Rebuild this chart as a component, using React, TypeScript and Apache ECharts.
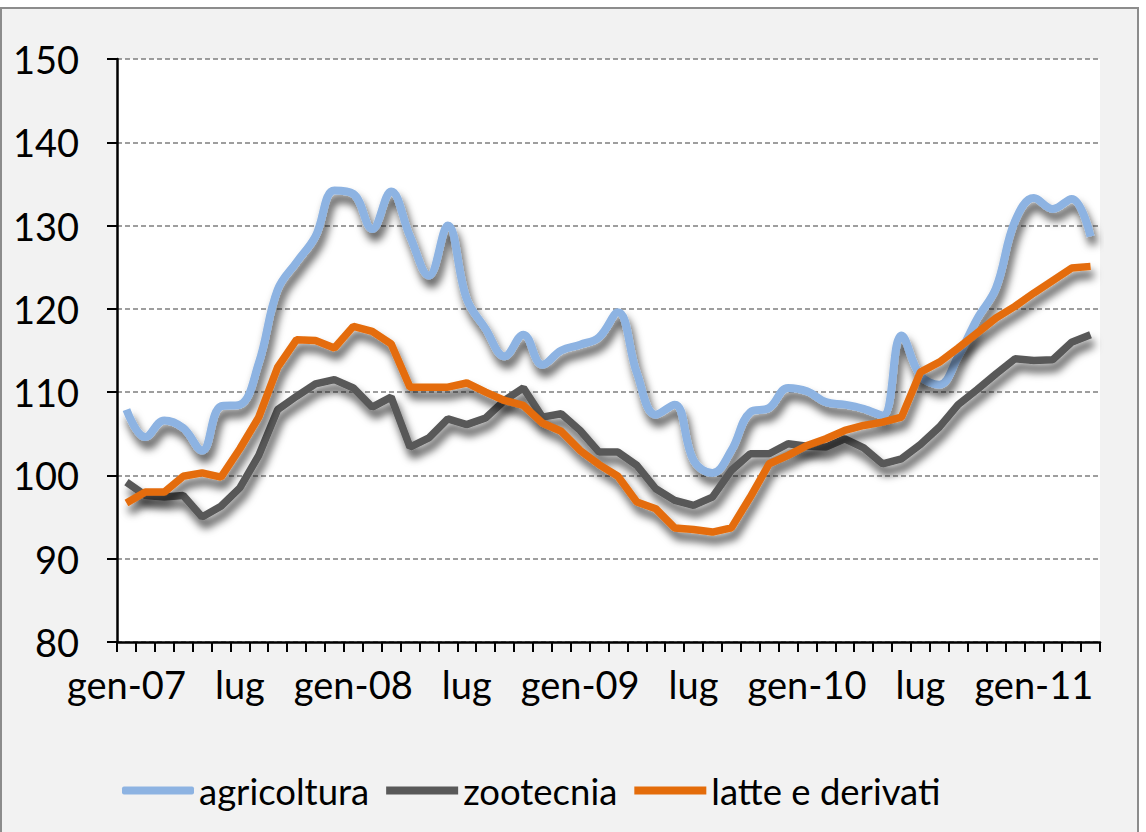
import React, { useEffect, useRef } from 'react';
import * as echarts from 'echarts';

const categories = [
  'gen-07', 'feb-07', 'mar-07', 'apr-07', 'mag-07', 'giu-07', 'lug-07', 'ago-07', 'set-07', 'ott-07', 'nov-07', 'dic-07',
  'gen-08', 'feb-08', 'mar-08', 'apr-08', 'mag-08', 'giu-08', 'lug-08', 'ago-08', 'set-08', 'ott-08', 'nov-08', 'dic-08',
  'gen-09', 'feb-09', 'mar-09', 'apr-09', 'mag-09', 'giu-09', 'lug-09', 'ago-09', 'set-09', 'ott-09', 'nov-09', 'dic-09',
  'gen-10', 'feb-10', 'mar-10', 'apr-10', 'mag-10', 'giu-10', 'lug-10', 'ago-10', 'set-10', 'ott-10', 'nov-10', 'dic-10',
  'gen-11', 'feb-11', 'mar-11', 'apr-11',
];

const agricoltura = [
  107.9, 104.6, 106.6, 105.7, 103.0, 108.3, 108.5, 113.5, 122.3, 125.6, 128.7, 134.2,
  133.8, 129.6, 134.1, 128.7, 124.0, 130.0, 121.2, 117.6, 114.3, 116.9, 113.3, 115.0,
  115.7, 116.6, 119.6, 112.3, 107.3, 108.5, 101.8, 100.3, 103.0, 107.6, 108.1, 110.5,
  110.1, 108.8, 108.5, 108.0, 107.2, 116.8, 112.0, 110.9, 114.3, 118.8, 122.5, 130.5,
  133.3, 132.0, 133.2, 128.7,
];

const zootecnia = [
  99.2, 97.6, 97.4, 97.6, 95.0, 96.3, 98.5, 102.4, 107.9, 109.5, 111.0, 111.5,
  110.5, 108.2, 109.4, 103.4, 104.5, 106.8, 106.1, 106.9, 109.0, 110.5, 107.0, 107.4,
  105.4, 102.8, 102.8, 101.2, 98.4, 97.0, 96.4, 97.4, 100.6, 102.6, 102.6, 103.8,
  103.5, 103.4, 104.4, 103.3, 101.4, 102.0, 103.7, 105.8, 108.5, 110.3, 112.2, 114.0,
  113.8, 113.9, 116.0, 116.9,
];

const latteDerivati = [
  96.7, 98.0, 98.0, 99.9, 100.3, 99.8, 103.2, 107.0, 113.0, 116.3, 116.2, 115.3,
  117.9, 117.3, 115.8, 110.6, 110.6, 110.6, 111.1, 110.0, 109.0, 108.4, 106.3, 105.3,
  103.0, 101.3, 99.9, 96.8, 96.0, 93.7, 93.5, 93.2, 93.7, 97.4, 101.4, 102.4,
  103.6, 104.4, 105.4, 106.0, 106.4, 107.0, 112.4, 113.6, 115.3, 117.1, 118.9, 120.3,
  121.9, 123.4, 124.9, 125.1,
];

const seriesNames = ['agricoltura', 'zootecnia', 'latte e derivati'];
const seriesColors = ['#8db3e2', '#595959', '#e46c0a'];
const legendIcons = ['roundRect', 'rect', 'rect'];
const yMin = 80;
const yMax = 150;
const yStep = 10;

const FONT = 'Lato';

export default function App() {
  const ref = useRef<HTMLDivElement>(null);

  useEffect(() => {
    if (!ref.current) return;
    const chart = echarts.init(ref.current, undefined, { renderer: 'svg' });
    const shadow = {
      shadowColor: 'rgba(0,0,0,0.7)',
      shadowBlur: 9,
      shadowOffsetX: 3,
      shadowOffsetY: 8,
    };
    const datasets = [agricoltura, zootecnia, latteDerivati];
    chart.setOption({
      animation: false,
      backgroundColor: 'transparent',
      grid: {
        left: 117,
        top: 59,
        right: 46,
        bottom: 190,
        show: true,
        backgroundColor: '#ffffff',
        borderWidth: 0,
      },
      legend: {
        top: 767,
        left: 117,
        itemWidth: 72,
        itemHeight: 8,
        itemGap: 17,
        data: seriesNames.map((name, i) => ({ name, icon: legendIcons[i] })),
        textStyle: { fontFamily: FONT, fontSize: 36.5, color: '#000' },
      },
      xAxis: {
        type: 'category',
        data: categories,
        boundaryGap: true,
        axisLine: { show: true, lineStyle: { color: '#000', width: 2.5 } },
        axisTick: { show: true, interval: 0, length: 10, lineStyle: { color: '#000', width: 2 } },
        axisLabel: {
          interval: 5,
          margin: 23,
          color: '#000',
          fontFamily: FONT,
          fontSize: 38,
          formatter: (v: string) => (v.startsWith('lug') ? 'lug' : v),
        },
        splitLine: { show: false },
      },
      yAxis: {
        type: 'value',
        min: yMin,
        max: yMax,
        interval: yStep,
        axisLine: { show: true, lineStyle: { color: '#000', width: 2.5 } },
        axisTick: { show: true, length: 10, lineStyle: { color: '#000', width: 2 } },
        axisLabel: { margin: 38, color: '#000', fontFamily: FONT, fontSize: 38 },
        splitLine: { show: true, lineStyle: { color: '#7f7f7f', width: 1.5, type: [5, 3] } },
      },
      series: seriesNames.map((name, i) => ({
        name,
        type: 'line',
        data: datasets[i],
        symbol: 'none',
        smooth: i === 0 ? 0.4 : false,
        color: seriesColors[i],
        lineStyle: { width: i === 0 ? 8 : 7.5, color: seriesColors[i], ...shadow },
        itemStyle: { color: seriesColors[i] },
        z: 2 + i,
      })),
    });
    return () => chart.dispose();
  }, []);

  return (
    <div style={{ position: 'fixed', left: 0, top: 0, width: 1146, height: 832, background: '#ffffff' }}>
      <div
        style={{
          position: 'absolute',
          left: 0,
          top: 7,
          width: 1139,
          height: 830,
          boxSizing: 'border-box',
          border: '2px solid #8c8c8c',
          background: '#f2f2f2',
        }}
      />
      <div ref={ref} style={{ position: 'absolute', left: 0, top: 0, width: 1146, height: 832 }} />
    </div>
  );
}
